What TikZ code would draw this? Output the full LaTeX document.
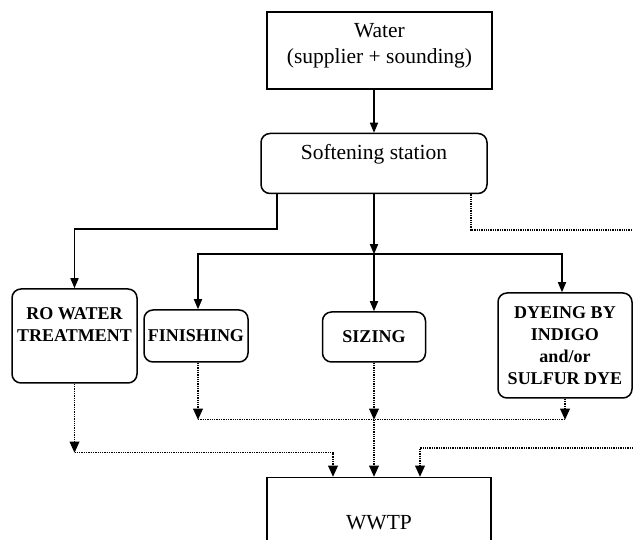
\documentclass[tikz,border=0pt]{standalone}
\usepackage{fontspec}
\setmainfont{Liberation Serif}
\usetikzlibrary{arrows.meta,positioning}

\begin{document}
\begin{tikzpicture}[x=1pt, y=-1pt,
                    >={Triangle[length=10pt,width=8pt]},
                    every node/.append style={align=center, inner sep=0pt},
                    sq/.style={draw, line width=1.5pt, font=\fontsize{21.5}{26}\selectfont},
                    rnd/.style={draw, line width=1.5pt, rounded corners=9pt},
                    proc/.style={rnd, font=\fontsize{18}{22}\selectfont\bfseries},
                    flow/.style={->, line width=1.6pt},
                    drain/.style={-{Triangle[length=11pt,width=10pt,line width=0pt]}, densely dotted, line width=1.3pt}]

   \path[use as bounding box, clip] (0,0) rectangle (633,540);

   \node [sq, minimum width=225pt, minimum height=77pt] (water) at (379.5,50.5) {Water\\(supplier + sounding)\\[-12pt]~};
   \node [rnd, font=\fontsize{21.5}{24}\selectfont, minimum width=226pt, minimum height=60pt, below=43pt of water, xshift=-5.5pt] (soft) {Softening station\\~};
   \node [proc, minimum width=125pt, minimum height=94pt, below=94pt of soft, xshift=-299.5pt] (ro) {RO WATER\\TREATMENT\\~};
   \node [proc, minimum width=104pt, minimum height=52pt, below=115pt of soft, xshift=-178pt] (fin) {FINISHING};
   \node [proc, minimum width=103pt, minimum height=50pt, below=117pt of soft] (siz) {SIZING};
   \node [proc, minimum width=134pt, minimum height=105pt, below=98pt of soft, xshift=191pt] (dye) {DYEING BY\\INDIGO\\and/or\\SULFUR DYE};
   \node [sq, minimum width=224pt, minimum height=90pt, below=114pt of siz, xshift=5pt] (wwtp) {WWTP};

   % fresh water
   \draw [flow] (water.south -| soft.north) -- (soft.north);
   \draw [flow] ([xshift=-97pt]soft.south) -- ++(0,35) -| (ro.north);
   \draw [flow] (soft.south) -- ++(0,60) coordinate (split);
   \draw [flow] (split) -- (siz.north);
   \draw [flow] (split) -| ([xshift=2pt]fin.north);
   \draw [flow] (split) -| ([xshift=-3pt]dye.north);
   \coordinate (rightOut) at (640,230);
   \draw [drain, -] ([xshift=97pt]soft.south) |- (rightOut);

   % waste water
   \draw [drain] ([xshift=2pt]fin.south) -- ++(0,57) coordinate (bus);
   \draw [drain, -] (bus) -- (bus -| dye.south);
   \draw [drain] (siz.south) -- (siz.south |- bus);
   \draw [drain] (dye.south) -- (dye.south |- bus);
   \draw [drain] (siz.south |- bus) -- (siz.south |- wwtp.north);
   \draw [drain] (ro.south) -- ++(0,69) coordinate (roBus);
   \draw [drain] (roBus) -| ([xshift=-46pt]wwtp.north);
   \coordinate (rightIn) at (640,448);
   \draw [drain] (rightIn) -| ([xshift=41pt]wwtp.north);
\end{tikzpicture}
\end{document}
